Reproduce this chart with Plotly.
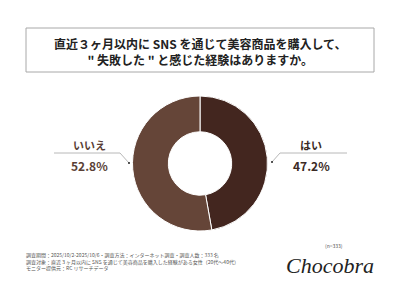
import plotly.graph_objects as go

labels = ["はい", "いいえ"]
values = [47.2, 52.8]
colors = ["#43261f", "#654538"]
title_lines = ["直近３ヶ月以内に SNS を通じて美容商品を購入して、", "\" 失敗した \" と感じた経験はありますか。"]
footer_lines = [
    "調査期間：2025/10/2-2025/10/6・調査方法：インターネット調査・調査人数：333 名",
    "調査対象：直近３ヶ月以内に SNS を通じて美容商品を購入した経験がある女性（20代～40代）",
    "モニター提供元：RC リサーチデータ",
]
n_label = "(n=333)"
brand = "Chocobra"

W, H = 400, 300
def px(x): return x / W
def py(y): return 1 - y / H

fig = go.Figure()
fig.add_trace(go.Pie(
    labels=labels, values=values, hole=0.47, sort=False, direction="clockwise",
    rotation=0, marker=dict(colors=colors, line=dict(color="#ffffff", width=1)),
    textinfo="none", hoverinfo="label+percent", showlegend=False,
    domain=dict(x=[px(132), px(268)], y=[py(231), py(96)]),
))

font = "Noto Sans CJK JP"
shapes = []
annotations = []

def text(x, y, t, size, color, xanchor="center", fam=font):
    annotations.append(dict(xref="paper", yref="paper", x=px(x), y=py(y), xanchor=xanchor, yanchor="middle",
                            showarrow=False, text=t, font=dict(family=fam, size=size, color=color),
                            align="center" if xanchor == "center" else "left"))

# title box
shapes.append(dict(type="rect", xref="paper", yref="paper", x0=px(26), x1=px(374), y0=py(72), y1=py(28),
                   line=dict(color="#a8a8a8", width=1)))
text(200, 51, "<b>" + "<br>".join(title_lines) + "</b>", 12, "#222222")

# labels with leader lines
label_defs = [
    (0, 311, 280, 347, 280, 272, 162, "#3b2a25"),
    (1, 89, 54, 120, 120, 129, 163, "#5a3f36"),
]
for i, tx, lx0, lx1, ex, dx, dy, c in label_defs:
    text(tx, 145, "<b>" + labels[i] + "</b>", 11, c)
    text(tx, 165, "<b>" + f"{values[i]:.1f}%" + "</b>", 12, c)
    shapes.append(dict(type="line", xref="paper", yref="paper", x0=px(lx0), x1=px(lx1), y0=py(153), y1=py(153),
                       line=dict(color="#b8b8b8", width=1)))
    shapes.append(dict(type="line", xref="paper", yref="paper", x0=px(ex), x1=px(dx), y0=py(153), y1=py(dy),
                       line=dict(color="#b8b8b8", width=1)))
    shapes.append(dict(type="circle", xref="paper", yref="paper", x0=px(dx - 1), x1=px(dx + 1),
                       y0=py(dy + 1), y1=py(dy - 1), fillcolor="#222222", line=dict(width=0)))

# footer
for k, line in enumerate(footer_lines):
    text(24, 255 + k * 6.5, line, 5, "#555555", xanchor="left")
text(334, 245, n_label, 5, "#555555")
text(330, 265, "<i>" + brand + "</i>", 22, "#222222", fam="Liberation Serif")

fig.update_layout(width=W, height=H, margin=dict(l=0, r=0, t=0, b=0),
                  paper_bgcolor="white", plot_bgcolor="white",
                  shapes=shapes, annotations=annotations)
fig.write_html("out.html")
